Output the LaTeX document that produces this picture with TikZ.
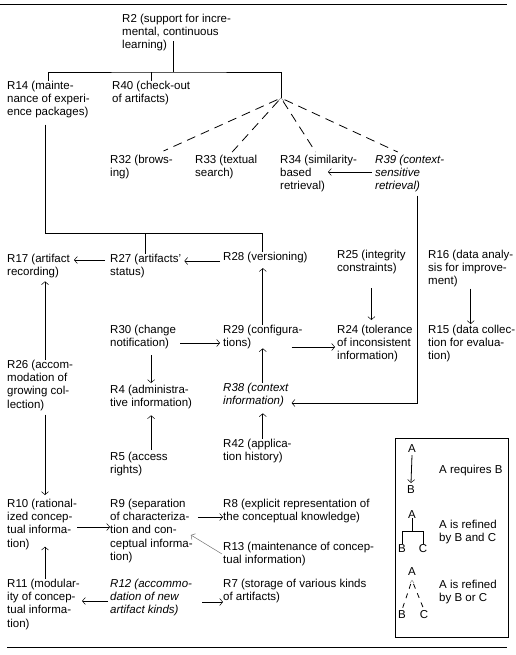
\documentclass[tikz,border=0pt]{standalone}
\usepackage{fontspec}
\setmainfont{Liberation Sans}
\usetikzlibrary{arrows.meta,calc}

\begin{document}
\begin{tikzpicture}[x=1pt,y=-1pt,
    txt/.style={anchor=north west,inner sep=0pt,align=left,font=\fontsize{11.5}{13.2}\selectfont},
    ital/.style={txt,font=\fontsize{11.5}{13.2}\selectfont\itshape},
    letter/.style={anchor=base,inner sep=0pt,font=\fontsize{11.5}{13.2}\selectfont},
    refine/.style={line width=0.8pt},
    req/.style={line width=0.8pt,-{Straight Barb[length=3pt,width=7pt,line width=0.5pt]}},
    orrefine/.style={line width=0.8pt,dash pattern=on 9pt off 6pt,shorten <=4pt},
    caret/.style={black!45,line width=0.5pt},
  ]
  \useasboundingbox (0,0) rectangle (515,655);

  % rules
  \draw[line width=0.9pt] (0,4) -- (507,4);
  \draw[line width=0.9pt] (7,647) -- (507,647);

  % requirements
  \node[txt] (r2) at (122,14) {R2 (support for incre-\\mental, continuous\\learning)};
  \node[txt] (r14) at (7,81) {R14 (mainte-\\nance of experi-\\ence packages)};
  \node[txt] (r40) at (112,81) {R40 (check-out\\of artifacts)};
  \node[txt] (r32) at (110,155) {R32 (brows-\\ing)};
  \node[txt] (r33) at (195,155) {R33 (textual\\search)};
  \node[txt] (r34) at (280,155) {R34 (similarity-\\based\\retrieval)};
  \node[ital] (r39) at (375,155) {R39 (context-\\sensitive\\retrieval)};
  \node[txt] (r17) at (7,254) {R17 (artifact\\recording)};
  \node[txt] (r27) at (110,254) {R27 (artifacts'\\status)};
  \node[txt] (r28) at (223,252) {R28 (versioning)};
  \node[txt] (r25) at (337,250) {R25 (integrity\\constraints)};
  \node[txt] (r16) at (428,250) {R16 (data analy-\\sis for improve-\\ment)};
  \node[txt] (r30) at (110,325) {R30 (change\\notification)};
  \node[txt] (r29) at (223,325) {R29 (configura-\\tions)};
  \node[txt] (r24) at (337,325) {R24 (tolerance\\of inconsistent\\information)};
  \node[txt] (r15) at (428,325) {R15 (data collec-\\tion for evalua-\\tion)};
  \node[txt] (r26) at (7,360) {R26 (accom-\\modation of\\growing col-\\lection)};
  \node[txt] (r4) at (110,385) {R4 (administra-\\tive information)};
  \node[ital] (r38) at (223,383) {R38 (context\\information)};
  \node[txt] (r5) at (110,452) {R5 (access\\rights)};
  \node[txt] (r42) at (223,439) {R42 (applica-\\tion history)};
  \node[txt] (r10) at (7,499) {R10 (rational-\\ized concep-\\tual informa-\\tion)};
  \node[txt] (r9) at (110,499) {R9 (separation\\of characteriza-\\tion and con-\\ceptual informa-\\tion)};
  \node[txt] (r8) at (223,499) {R8 (explicit representation of\\the conceptual knowledge)};
  \node[txt] (r13) at (223,542) {R13 (maintenance of concep-\\tual information)};
  \node[txt] (r11) at (7,579) {R11 (modular-\\ity of concep-\\tual informa-\\tion)};
  \node[ital] (r12) at (110,579) {R12 (accommo-\\dation of new\\artifact kinds)};
  \node[txt] (r7) at (223,579) {R7 (storage of various kinds\\of artifacts)};

  % refinement of R2
  \coordinate (r2bar) at (173,72);
  \coordinate (or2) at (281,98);
  \draw[refine] (r2bar) -- ++(0,-31);
  \draw[refine] (r14.north) |- (r2bar) -| (or2);
  \draw[refine] (r40.north) -- (r40.north |- r2bar);
  \draw[caret] ($(or2)+(-3,3)$) -- (or2) -- ($(or2)+(3,3)$);
  \draw[orrefine] (or2) -- ($(r32.north)+(22,-4)$);
  \draw[orrefine] (or2) -- ($(r33.north)+(6,-3)$);
  \draw[orrefine] (or2) -- ($(r34.north)+(-3,-3)$);
  \draw[orrefine] (or2) -- ($(r39.north)+(-12,-3)$);

  % R39
  \coordinate (r39bend) at (417,403);
  \draw[req] ($(r39.north west)+(-3,17)$) -- ($(r34.north west)+(48,17)$);
  \draw[req] ($(r39.south -| r39bend)+(0,3)$) |- ($(r38.east |- r39bend)+(3,0)$);

  % refinement of R14
  \coordinate (r14bend) at (45,233);
  \coordinate (r14bar) at (262,233);
  \draw[refine] ($(r14.south -| r14bend)+(0,6)$) -- (r14bend) -- (r14bar) -- (r28.north -| r14bar);
  \draw[refine] (r27.north) -- (r27.north |- r14bar);

  \draw[req] ($(r27.north west)+(-5,6)$) -- ($(r17.north east)+(4,6)$);
  \draw[req] ($(r28.north west)+(-3,9)$) -- ($(r27.north east)+(3,7)$);
  \draw[req] (r29.north) -- ($(r28.south -| r29.north)+(0,5)$);
  \draw[req] ($(r30.north east)+(4,18)$) -- ($(r29.north west)+(-3,18)$);
  \draw[req] ($(r29.north east)+(-11,22)$) -- ($(r24.north west)+(-2,22)$);
  \draw[req] ($(r25.south)+(0,14)$) -- ($(r24.north -| r25.south)+(0,-5)$);
  \draw[req] ($(r16.south)+(0,1)$) -- ($(r15.north -| r16.south)+(0,-1)$);

  % left column
  \draw[req] (r26.north -| r14bend) -- ($(r17.south -| r14bend)+(0,3)$);
  \draw[req] ($(r26.south -| r14bend)+(0,4)$) -- ($(r10.north -| r14bend)+(0,-4)$);
  \draw[req] (r11.north -| r14bend) -- ($(r10.south -| r14bend)+(0,-3)$);

  \draw[req] ($(r30.south -| r4.north)+(0,6)$) -- ($(r4.north)+(0,-2)$);
  \draw[req] ($(r5.north -| r4.south)+(0,-2)$) -- ($(r4.south)+(0,6)$);
  \draw[req] (r38.north -| r29.north) -- ($(r29.south)+(0,-1)$);
  \draw[req] (r42.north -| r29.north) -- ($(r38.south -| r29.north)+(0,6)$);

  % conceptual information
  \draw[req] ($(r10.north east)+(0,28)$) -- ($(r9.north west)+(0,28)$);
  \draw[req] ($(r9.north east)+(5,18)$) -- ($(r8.north west)+(0,18)$);
  \draw[req,black!55,line width=0.5pt] ($(r13.north west)+(-1,12)$) -- ($(r9.north east)+(-2,36)$);
  \draw[req] ($(r12.north west)+(-2,22)$) -- ($(r11.north east)+(2,22)$);
  \draw[req] ($(r12.north east)+(10,23)$) -- ($(r7.north west)+(0,23)$);

  % legend
  \draw[line width=0.8pt] (395,438) rectangle (508,637);
  \node[letter] (la1) at (412,452) {A};
  \node[letter] (lb1) at (411,493) {B};
  \node[txt] (lreq) at (439,465) {A requires B};
  \draw[req] ($(la1.south)+(0,3)$) -- ($(lb1.north)+(0,-2)$);

  \node[letter] (la2) at (412,518) {A};
  \node[letter] (lb2) at (402,552) {B};
  \node[letter] (lc2) at (423,552) {C};
  \node[txt] (land) at (439,520) {A is refined\\by B and C};
  \coordinate (lbar) at ($(la2.south)+(0,13)$);
  \draw[refine] (la2.south) -- (lbar);
  \draw[refine] (lb2.north) |- (lbar) -| (lc2.north);

  \node[letter] (la3) at (412,575) {A};
  \node[letter] (lb3) at (402,618) {B};
  \node[letter] (lc3) at (424,618) {C};
  \node[txt] (lor) at (439,580) {A is refined\\by B or C};
  \coordinate (lorj) at ($(la3.south)+(0,5)$);
  \draw[caret] ($(lorj)+(-2,3)$) -- (lorj) -- ($(lorj)+(2,3)$);
  \draw[orrefine,dash pattern=on 5pt off 5pt] (lorj) -- (lb3.north);
  \draw[orrefine,dash pattern=on 5pt off 5pt] (lorj) -- (lc3.north);
\end{tikzpicture}
\end{document}
